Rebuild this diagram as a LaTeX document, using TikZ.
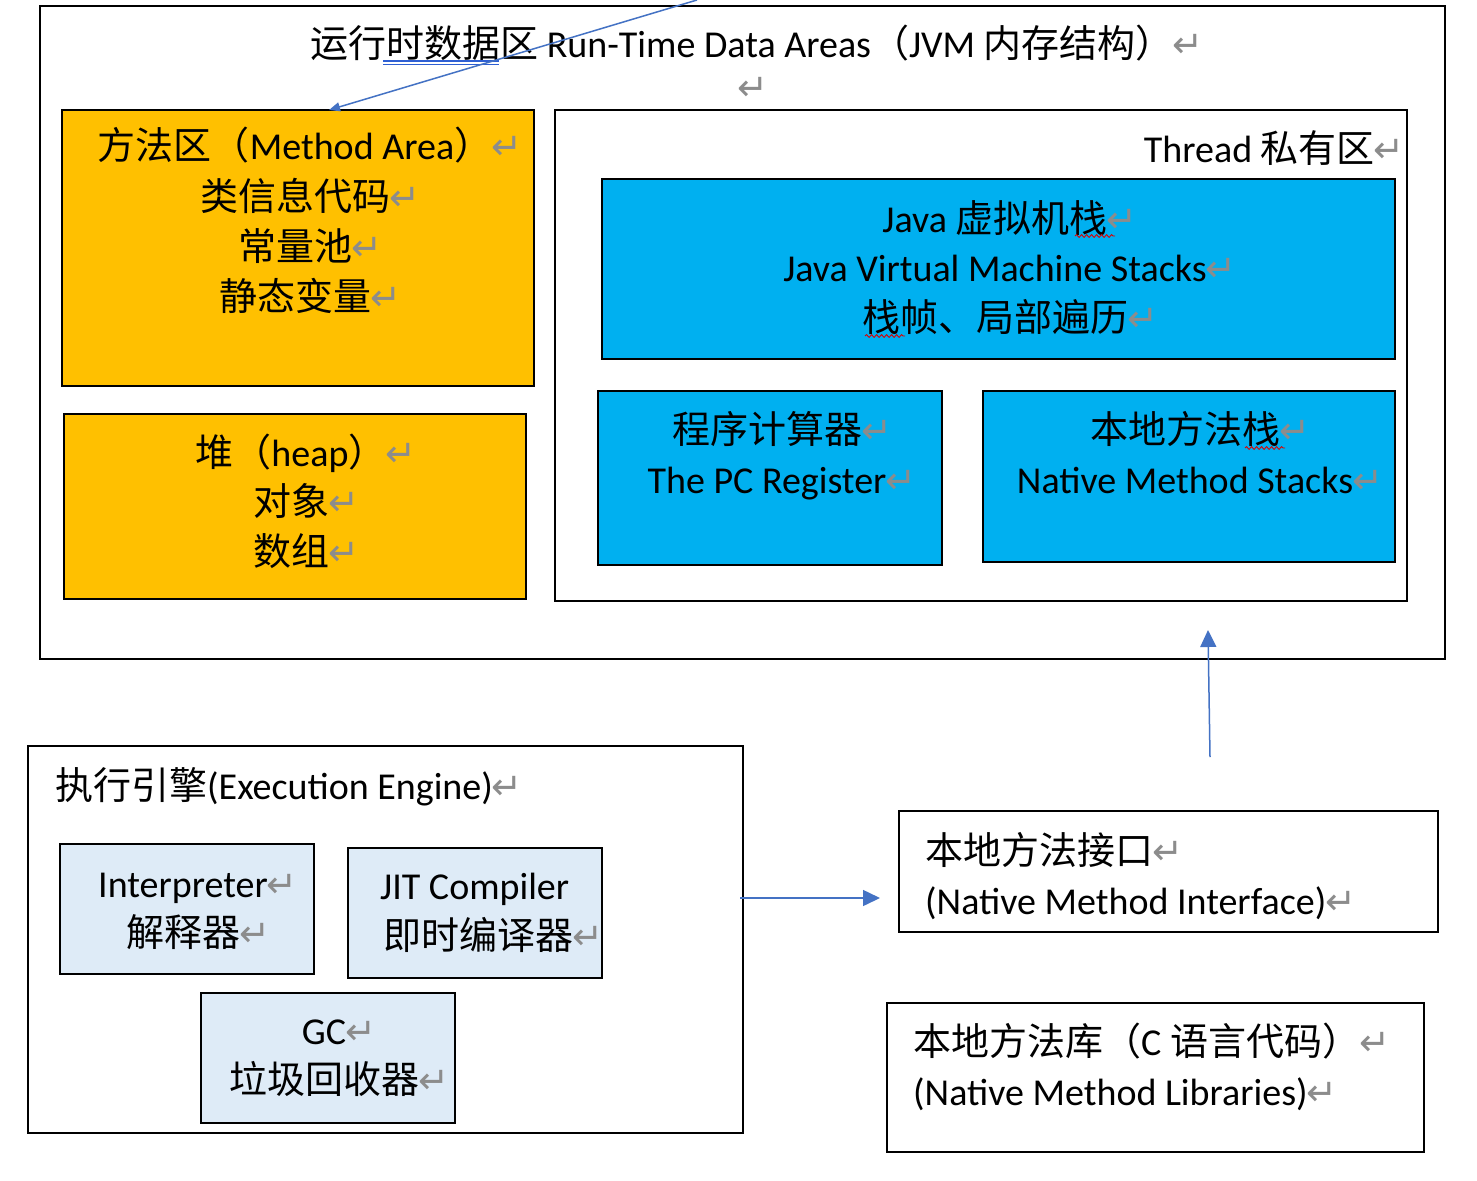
\documentclass[tikz,border=0pt]{standalone}
\usepackage{fontspec}
\setmainfont{Carlito}
\newfontfamily\cjk{Noto Sans CJK SC}
\newfontfamily\symf{DejaVu Sans}
\usetikzlibrary{arrows.meta,calc,fit,decorations.pathmorphing}
\definecolor{orangebox}{HTML}{FFC000}
\definecolor{cyanbox}{HTML}{00B0F0}
\definecolor{paleblue}{HTML}{DEEBF7}
\definecolor{arrowblue}{HTML}{4472C4}
\definecolor{ulblue}{HTML}{2E5FD3}
\definecolor{retgray}{HTML}{8C8C8C}
\newcommand{\zh}[1]{{\cjk #1}}
\newcommand{\ret}{{\color{retgray}\symf\fontsize{37}{37}\selectfont\kern-1pt ↵}}
\tikzset{
  box/.style={draw=black, line width=2.4pt, inner sep=0pt, outer sep=0pt, rectangle},
  txt/.style={inner sep=0pt, anchor=base, font=\fontsize{38}{50}\selectfont},
  txtl/.style={txt, anchor=base west},
  txtr/.style={txt, anchor=base east},
  bluearrow/.style={draw=arrowblue, line width=1.5pt, -{Triangle[length=17pt,width=16pt]}},
  smallarrow/.style={draw=arrowblue, line width=1.5pt, -{Triangle[length=11pt,width=9pt]}},
  wavy/.style={draw=red!85!black, line width=0.9pt, decorate, decoration={snake, amplitude=1.4pt, segment length=5pt}},
  dblul/.style={draw=ulblue, line width=1.3pt}
}
\begin{document}
\begin{tikzpicture}[x=1pt,y=-1pt]
\useasboundingbox (0,0) rectangle (1477,1180);
\fill[white] (0,0) rectangle (1477,1180);

% ---- boxes ----
\node[box, fit={(40,6) (1445,659)}] (outer) {};
\node[box, fill=orangebox, fit={(62,110) (534,386)}] (ma) {};
\node[box, fill=orangebox, fit={(64,414) (526,599)}] (heap) {};
\node[box, line width=2pt, fit={(555,110) (1407,601)}] (thread) {};
\node[box, fill=cyanbox, fit={(602,179) (1395,359)}] (jvms) {};
\node[box, fill=cyanbox, fit={(598,391) (942,565)}] (pc) {};
\node[box, fill=cyanbox, fit={(983,391) (1395,562)}] (nms) {};
\node[box, fit={(28,746) (743,1133)}] (ee) {};
\node[box, fill=paleblue, fit={(60,844) (314,974)}] (interp) {};
\node[box, fill=paleblue, fit={(348,848) (602,978)}] (jit) {};
\node[box, fill=paleblue, fit={(201,993) (455,1123)}] (gc) {};
\node[box, fit={(899,811) (1438,932)}] (nmi) {};
\node[box, fit={(887,1003) (1424,1152)}] (nml) {};

% ---- texts ----
\node[txtl] (title) at (310,58) {\zh{运行时数据区} Run-Time Data Areas\zh{（}JVM \zh{内存结构）}\ret};
\node[txt] (stray) at (753,101) {\ret};

\node[txt] (ma1) at (310,160) {\zh{方法区（}Method Area\zh{）}\ret};
\node[txt] (ma2) at (310,210) {\zh{类信息代码}\ret};
\node[txt] (ma3) at (310,260) {\zh{常量池}\ret};
\node[txt] (ma4) at (310,310) {\zh{静态变量}\ret};

\node[txt] (hp1) at (306,466) {\zh{堆（}heap\zh{）}\ret};
\node[txt] (hp2) at (306,515) {\zh{对象}\ret};
\node[txt] (hp3) at (306,565) {\zh{数组}\ret};

\node[txtr] (th1) at (1405,162) {Thread \zh{私有区}\ret};

\node[txt] (jv1) at (1010,232) {Java \zh{虚拟机栈}\ret};
\node[txt] (jv2) at (1010,281) {Java Virtual Machine Stacks\ret};
\node[txt] (jv3) at (1010,331) {\zh{栈帧、局部遍历}\ret};

\node[txt] (pc1) at (782,443) {\zh{程序计算器}\ret};
\node[txt] (pc2) at (782,493) {The PC Register\ret};

\node[txt] (nms1) at (1200,443) {\zh{本地方法栈}\ret};
\node[txt] (nms2) at (1200,493) {Native Method Stacks\ret};

\node[txtl] (ee1) at (55,799) {\zh{执行引擎}(Execution Engine)\ret};
\node[txt] (in1) at (198,897) {Interpreter\ret};
\node[txt] (in2) at (198,946) {\zh{解释器}\ret};
\node[txtl] (jit1) at (380,899) {JIT Compiler};
\node[txtl] (jit2) at (383,949) {\zh{即时编译器}\ret};
\node[txt] (gc1) at (339,1044) {GC\ret};
\node[txt] (gc2) at (339,1093) {\zh{垃圾回收器}\ret};

\node[txtl] (nmi1) at (925,864) {\zh{本地方法接口}\ret};
\node[txtl] (nmi2) at (925,914) {(Native Method Interface)\ret};

\node[txtl] (nml1) at (913,1055) {\zh{本地方法库（}C \zh{语言代码）}\ret};
\node[txtl] (nml2) at (913,1105) {(Native Method Libraries)\ret};

% ---- underline marks ----
\draw[dblul] (383,61) -- (499,61);
\draw[dblul] (383,64.5) -- (499,64.5);
\draw[wavy] (1075,236) -- (1115,236);
\draw[wavy] (865,336) -- (905,336);
\draw[wavy] (1245,448) -- (1285,448);

% ---- connectors ----
\coordinate (topfree) at (697,0);
\draw[smallarrow] (topfree) -- ($(ma.north west)+(267,0)$);
\draw[bluearrow] ($(ee.north east)+(-3,152)$) -- ($(nmi.north west)+(-19,87)$);
\draw[bluearrow] ($(nmi.north)+(41.5,-54)$) -- ($(outer.south)+(465.5,-29)$);
\end{tikzpicture}
\end{document}
